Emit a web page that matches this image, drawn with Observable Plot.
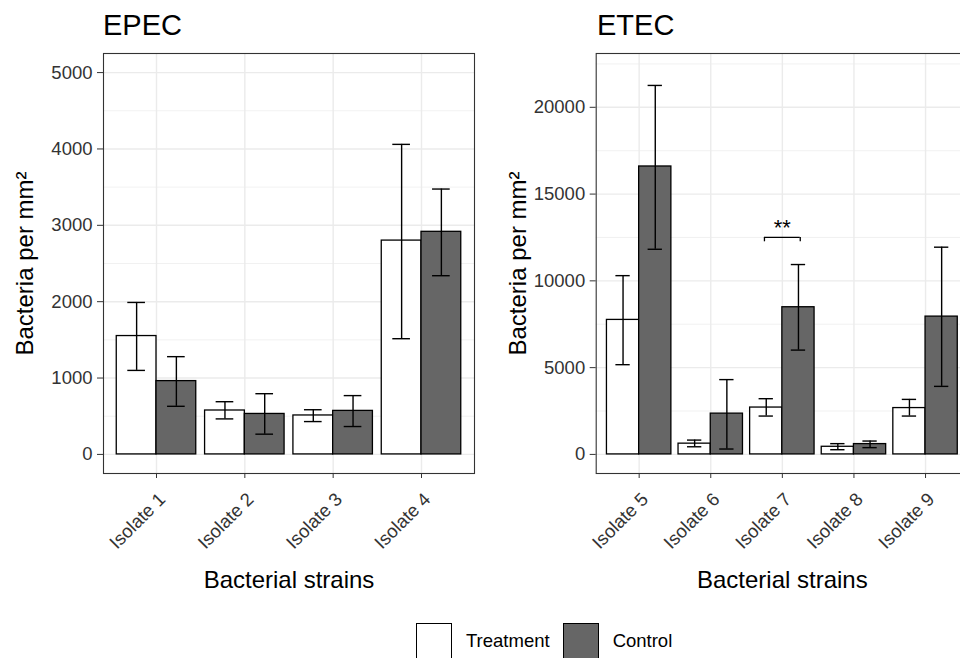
<!DOCTYPE html>
<html><head><meta charset="utf-8">
<script src="https://cdn.jsdelivr.net/npm/d3@7"></script>
<script src="https://cdn.jsdelivr.net/npm/@observablehq/plot@0.6"></script>
<style>
html,body{margin:0;padding:0;background:#fff;}
#wrap{position:relative;width:960px;height:658px;overflow:hidden;font-family:"Liberation Sans",Arial,sans-serif;background:#fff;}
.title{position:absolute;top:11px;font-size:29px;line-height:29px;color:#000;z-index:2;}
.panel{position:absolute;top:0;height:600px;z-index:1;}
.panel svg{max-width:none !important;}
#legend{position:absolute;top:623px;left:416px;display:flex;align-items:center;height:36px;font-size:18.5px;color:#000;z-index:2;}
.key{width:36px;height:36px;box-sizing:border-box;border:1.5px solid #000;margin-right:14px;}
.lab{margin-right:13px;}
</style>
</head><body>
<div id="wrap">
  <div class="panel" id="p1" style="left:0px;width:480px"></div>
  <div class="panel" id="p2" style="left:480px;width:500px"></div>
  <div class="title" style="left:103px">EPEC</div>
  <div class="title" style="left:597px">ETEC</div>
  <div id="legend"></div>
</div>
<script>
// ---- data ----
const groups = ["Treatment", "Control"];
const groupFills = ["#ffffff", "#666666"];

const epecIsolates = ["Isolate 1", "Isolate 2", "Isolate 3", "Isolate 4"];
const epecTreatMean = [1550, 575, 510, 2800];
const epecTreatLow  = [1100, 465, 430, 1515];
const epecTreatHigh = [1990, 690, 585, 4060];
const epecCtrlMean  = [960, 530, 570, 2915];
const epecCtrlLow   = [630, 265, 365, 2340];
const epecCtrlHigh  = [1280, 795, 770, 3475];
const epecTicks = [0, 1000, 2000, 3000, 4000, 5000];
const epecDomain = [-250, 5250];

const etecIsolates = ["Isolate 5", "Isolate 6", "Isolate 7", "Isolate 8", "Isolate 9"];
const etecTreatMean = [7750, 620, 2700, 440, 2670];
const etecTreatLow  = [5170, 440, 2210, 270, 2210];
const etecTreatHigh = [10300, 825, 3210, 620, 3170];
const etecCtrlMean  = [16590, 2350, 8480, 595, 7940];
const etecCtrlLow   = [11820, 310, 6010, 390, 3920];
const etecCtrlHigh  = [21260, 4310, 10940, 770, 11940];
const etecTicks = [0, 5000, 10000, 15000, 20000];
const etecDomain = [-1100, 23100];

const etecSig = [{isolate: "Isolate 7", y: 12500, label: "**"}];

const xTitle = "Bacterial strains";
const yTitle = "Bacteria per mm²";

// ---- drawing ----
const FONT = '"Liberation Sans", Arial, sans-serif';
function panel(isolates, tMean, tLow, tHigh, cMean, cLow, cHigh, yTicks, yDomain, width, mLeft, mRight, sig) {
  const n = isolates.length;
  const rows = [];
  isolates.forEach((name, i) => {
    rows.push({i, g: 0, group: groups[0], mean: tMean[i], low: tLow[i], high: tHigh[i]});
    rows.push({i, g: 1, group: groups[1], mean: cMean[i], low: cLow[i], high: cHigh[i]});
  });
  const barW = 0.45, capW = 0.1;
  const left = d => d.i + (d.g - 1) * barW;
  const right = d => d.i + d.g * barW;
  const center = d => d.i + (d.g - 0.5) * barW;
  const step = yTicks[1] - yTicks[0];
  const minor = yTicks.map(t => t + step / 2).filter(v => v < yDomain[1]);
  const sigRows = (sig || []).map(s => ({...s, i: isolates.indexOf(s.isolate)}));
  const drop = step * 0.05;
  return Plot.plot({
    width, height: 600,
    marginTop: 53, marginBottom: 127, marginLeft: mLeft, marginRight: mRight,
    style: {fontFamily: FONT, fontSize: "18px", color: "#333", background: "white", overflow: "visible"},
    x: {domain: [-0.6, n - 0.4]},
    y: {domain: yDomain},
    color: {domain: groups, range: groupFills},
    marks: [
      Plot.ruleY(minor, {stroke: "#ebebeb", strokeWidth: 0.7}),
      Plot.ruleY(yTicks, {stroke: "#ebebeb", strokeWidth: 1.4}),
      Plot.ruleX(d3.range(n), {stroke: "#ebebeb", strokeWidth: 1.4}),
      Plot.rect(rows, {x1: left, x2: right, y1: 0, y2: "mean", fill: "group", stroke: "black", strokeWidth: 1.3}),
      Plot.ruleX(rows, {x: center, y1: "low", y2: "high", stroke: "black", strokeWidth: 1.4}),
      Plot.ruleY(rows, {y: "low", x1: d => center(d) - capW, x2: d => center(d) + capW, stroke: "black", strokeWidth: 1.4}),
      Plot.ruleY(rows, {y: "high", x1: d => center(d) - capW, x2: d => center(d) + capW, stroke: "black", strokeWidth: 1.4}),
      Plot.ruleY(sigRows, {y: "y", x1: d => d.i - 0.25, x2: d => d.i + 0.25, stroke: "black", strokeWidth: 1.3}),
      Plot.ruleX(sigRows, {x: d => d.i - 0.25, y1: d => d.y - drop, y2: "y", stroke: "black", strokeWidth: 1.3}),
      Plot.ruleX(sigRows, {x: d => d.i + 0.25, y1: d => d.y - drop, y2: "y", stroke: "black", strokeWidth: 1.3}),
      Plot.text(sigRows, {x: "i", y: "y", text: "label", dy: -10, fontSize: 22, fill: "black"}),
      Plot.frame({stroke: "#333", strokeWidth: 1.1}),
      Plot.axisY({ticks: yTicks, tickFormat: d => String(d), tickSize: 6, tickPadding: 5, label: null, fontSize: 18.5}),
      Plot.axisX({ticks: d3.range(n), tickFormat: () => "", tickSize: 5, label: null}),
      Plot.text(isolates, {x: (d, i) => i, frameAnchor: "bottom", rotate: -45, textAnchor: "end", lineAnchor: "bottom", dx: 10, dy: 27, fontSize: 18.5, fill: "#333"}),
      Plot.text([xTitle], {frameAnchor: "bottom", textAnchor: "middle", lineAnchor: "bottom", dy: 114, fontSize: 24, fill: "black"}),
      Plot.text([yTitle], {frameAnchor: "left", textAnchor: "middle", lineAnchor: "middle", rotate: -90, dx: -77.7, fontSize: 24, fill: "black"})
    ]
  });
}

document.getElementById("p1").append(panel(epecIsolates, epecTreatMean, epecTreatLow, epecTreatHigh, epecCtrlMean, epecCtrlLow, epecCtrlHigh, epecTicks, epecDomain, 480, 103, 6, null));
document.getElementById("p2").append(panel(etecIsolates, etecTreatMean, etecTreatLow, etecTreatHigh, etecCtrlMean, etecCtrlLow, etecCtrlHigh, etecTicks, etecDomain, 500, 115.7, 12, etecSig));

const legend = document.getElementById("legend");
groups.forEach((g, k) => {
  const key = document.createElement("div");
  key.className = "key";
  key.style.background = groupFills[k];
  const lab = document.createElement("div");
  lab.className = "lab";
  lab.textContent = g;
  legend.append(key, lab);
});
</script>
</body></html>
